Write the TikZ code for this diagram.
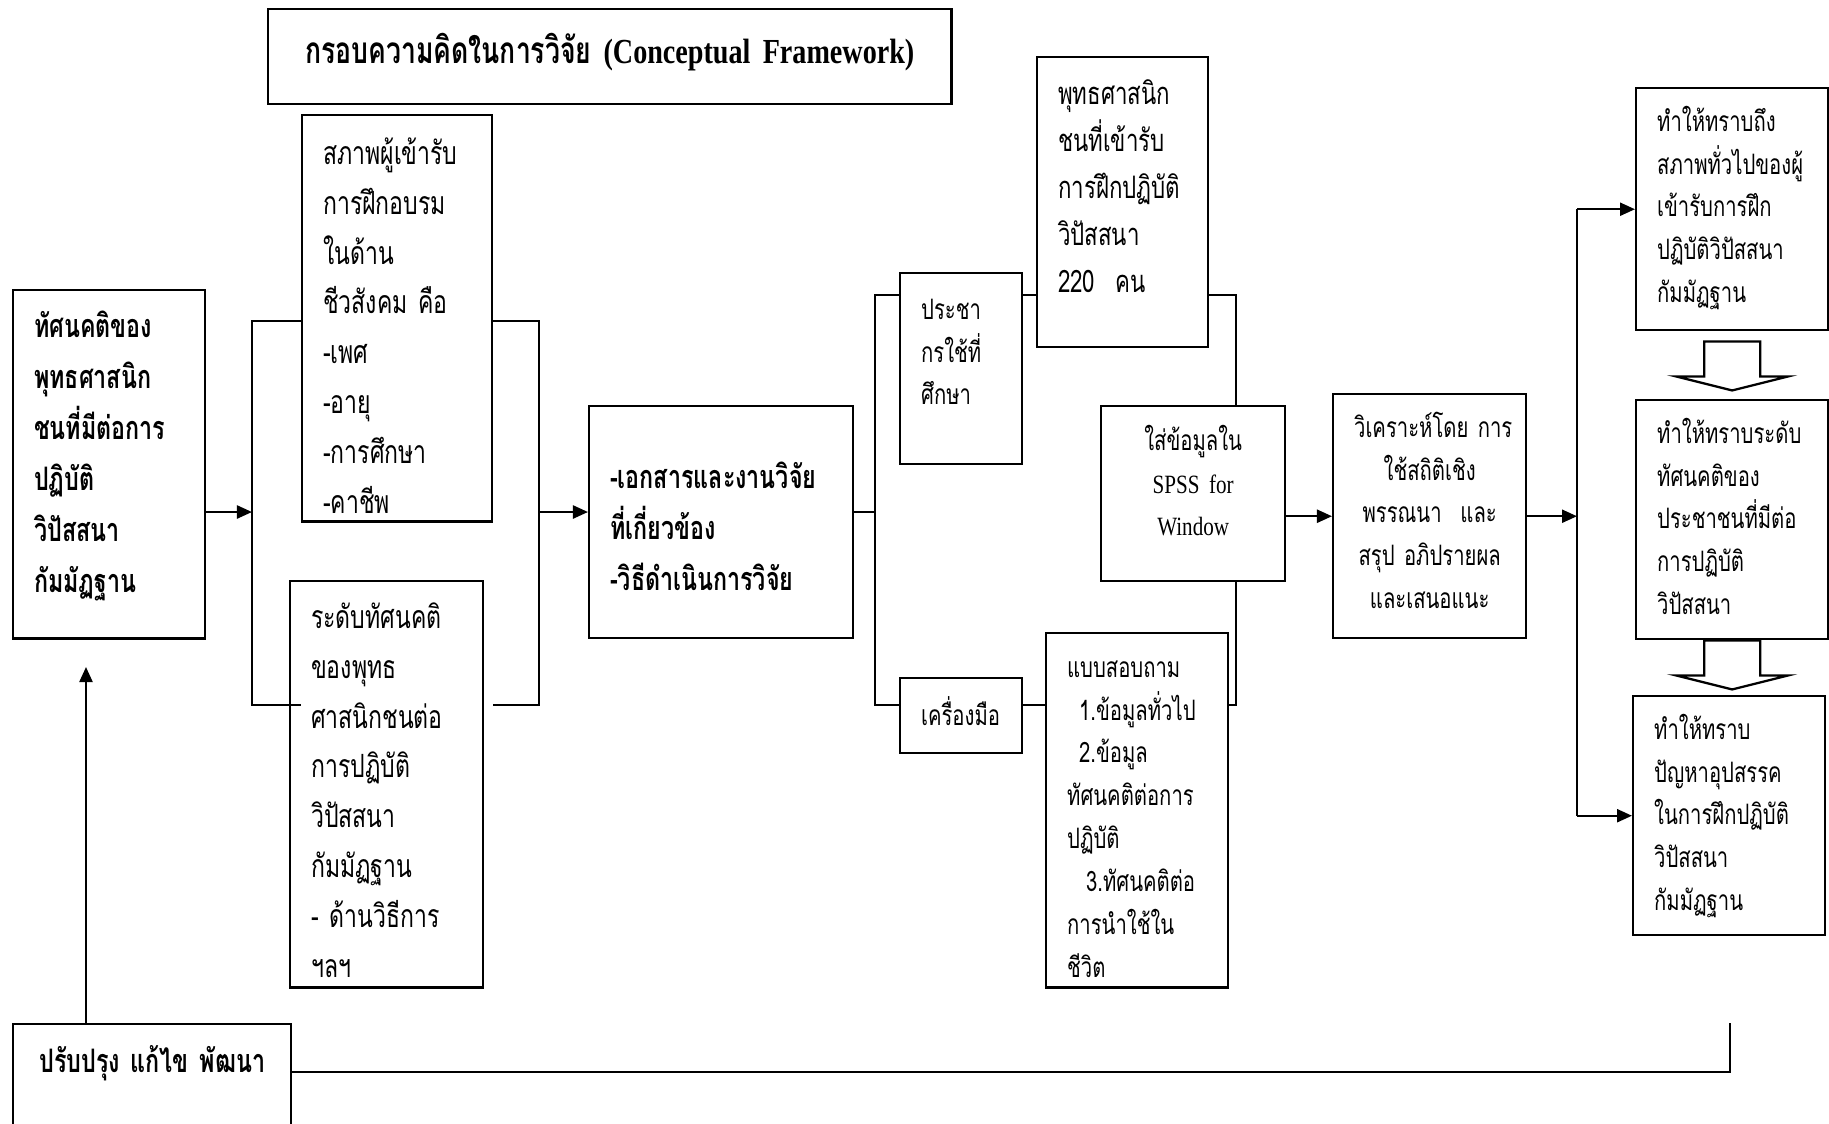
\documentclass[tikz,border=0pt]{standalone}
\usepackage{fontspec}
\setmainfont{Liberation Serif}[FakeStretch=0.8]
\newfontfamily\thai[Script=Thai,FakeStretch=0.72]{Loma}
\usetikzlibrary{arrows.meta,positioning}
\exhyphenpenalty=10000
\hyphenpenalty=10000

\begin{document}
\begin{tikzpicture}[x=0.01cm, y=-0.01cm, line width=0.65pt, >={Triangle[length=0.15cm,width=0.13cm]}]
	\tikzstyle{Box}		= [draw, anchor=north west, inner xsep=0.21cm, inner ysep=0pt, align=left, font=\thai\fontsize{9.1}{14.2}\selectfont]
	\tikzstyle{Small}	= [font=\thai\fontsize{8}{12.2}\selectfont]
	\tikzstyle{Mid}		= [font=\thai\fontsize{8.8}{13.4}\selectfont]
	\tikzstyle{Bold}	= [font=\thai\bfseries\fontsize{9.2}{14.5}\selectfont]
	\tikzstyle{Block}	= [line width=0.65pt, fill=white]

	\clip (0,0) rectangle (1829,1123);

	\node (title) at (267,8) [Box][align=center, font=\thai\bfseries\fontsize{10.5}{14}\selectfont, text width=6.41cm, text height=0.54cm, text depth=0.41cm]
		{กรอบความคิดในการวิจัย {\rmfamily\fontsize{10}{14}\selectfont(Conceptual~Framework)}};

	\node (A) at (12,289) [Box][Bold][text width=1.50cm, text height=0.47cm, text depth=3.01cm]
		{ทัศนคติของ\\พุทธศาสนิก\\ชนที่มีต่อการ\\ปฏิบัติ\\วิปัสสนา\\กัมมัฏฐาน};
	\node (B1) at (301,114) [Box][text width=1.48cm, text height=0.49cm, text depth=3.57cm]
		{สภาพผู้เข้ารับ\\การฝึกอบรม\\ในด้าน\\ชีวสังคม~คือ\\-เพศ\\-อายุ\\-การศึกษา\\-คาชีพ};
	\node (B2) at (289,580) [Box][text width=1.51cm, text height=0.47cm, text depth=3.59cm]
		{ระดับทัศนคติ\\ของพุทธ\\ศาสนิกชนต่อ\\การปฏิบัติ\\วิปัสสนา\\กัมมัฏฐาน\\-~ด้านวิธีการ\\ฯลฯ};
	\node (C) at (588,405) [Box][Bold][text width=2.22cm, text height=0.82cm, text depth=1.50cm]
		{-เอกสารและงานวิจัย\\ที่เกี่ยวข้อง\\-วิธีดำเนินการวิจัย};
	\node (D1) at (899,272) [Box][Small][text width=0.80cm, text height=0.46cm, text depth=1.45cm]
		{ประชา\\กรใช้ที่\\ศึกษา};
	\node (D2) at (899,677) [Box][Small][text width=0.80cm, text height=0.47cm, text depth=0.28cm]
		{เครื่องมือ};
	\node (E1) at (1036,56) [Box][Mid][text width=1.29cm, text height=0.47cm, text depth=2.43cm]
		{พุทธศาสนิก\\ชนที่เข้ารับ\\การฝึกปฏิบัติ\\วิปัสสนา\\220~~คน};
	\node (E2) at (1045,632) [Box][Small][text width=1.40cm, text height=0.44cm, text depth=3.10cm]
		{แบบสอบถาม\\\hspace*{0.12cm}1.ข้อมูลทั่วไป\\\hspace*{0.12cm}2.ข้อมูล\\ทัศนคติต่อการ\\ปฏิบัติ\\\hspace*{0.19cm}3.ทัศนคติต่อ\\การนำใช้ใน\\ชีวิต};
	\node (F) at (1100,405) [Box][Small][align=center, text width=1.42cm, text height=0.44cm, text depth=1.31cm]
		{ใส่ข้อมูลใน\\{\rmfamily\fontsize{7.5}{12.2}\selectfont SPSS~for}\\{\rmfamily\fontsize{7.5}{12.2}\selectfont Window}};
	\node (G) at (1332,393) [Box][Small][align=center, text width=1.51cm, text height=0.43cm, text depth=2.01cm]
		{วิเคราะห์โดย~การ\\ใช้สถิติเชิง\\พรรณนา~~และ\\สรุป~อภิปรายผล\\และเสนอแนะ};
	\node (H1) at (1635,87) [Box][Small][text width=1.50cm, text height=0.43cm, text depth=1.99cm]
		{ทำให้ทราบถึง\\สภาพทั่วไปของผู้\\เข้ารับการฝึก\\ปฏิบัติวิปัสสนา\\กัมมัฏฐาน};
	\node (H2) at (1635,399) [Box][Small][text width=1.50cm, text height=0.43cm, text depth=1.96cm]
		{ทำให้ทราบระดับ\\ทัศนคติของ\\ประชาชนที่มีต่อ\\การปฏิบัติ\\วิปัสสนา};
	\node (H3) at (1632,695) [Box][Small][text width=1.50cm, text height=0.43cm, text depth=1.96cm]
		{ทำให้ทราบ\\ปัญหาอุปสรรค\\ในการฝึกปฏิบัติ\\วิปัสสนา\\กัมมัฏฐาน};
	\node (I) at (12,1023) [Box][Bold][align=center, text width=2.36cm, text height=0.48cm, text depth=1.02cm]
		{ปรับปรุง~แก้ไข~พัฒนา};

	\coordinate (r0) at (0,295);
	\coordinate (r1) at (0,321);
	\coordinate (r2) at (0,705);
	\coordinate (jL) at (252,512);
	\coordinate (jR) at (539,512);
	\coordinate (sp) at (875,512);
	\coordinate (m) at (1236,295);
	\coordinate (v) at (1577,513);
	\coordinate (fb) at (1730,1023);
	\coordinate (fy) at (0,1072);
	\coordinate (up) at (86,667);

	% brackets round the two boxes of the first stage
	\draw (B1.west |- r1) -| (jL) |- (B1.west |- r2);
	\draw (B1.east |- r1) -| (jR) |- (B1.east |- r2);
	\draw [->] (A.east |- jL) -- (jL);
	\draw [->] (jR) -- (C.west |- jR);

	\draw (C.east |- sp) -- (sp);
	\draw (D1.west |- r0) -| (sp) |- (D2.west |- r2);
	\draw (D1.east |- r0) -- (E1.west |- r0);
	\draw (D2.east |- r2) -- (E2.west |- r2);
	\draw (E1.east |- r0) -| (F.north -| m);
	\draw (F.south -| m) |- (E2.east |- r2);
	\draw [->] (F.east |- G.west) -- (G.west);

	\draw [->] (G.east) -- (v |- G.east);
	\draw (v |- H1.west) -- (v |- H3.west);
	\foreach \n in {H1, H3}
		\draw [->] (v |- \n.west) -- (\n.west);
	\foreach \n/\g in {H1/10, H2/0}
		\draw [Block] (\n.south) ++(-28,\g) -- ++(0,35) -- ++(-28,0) -- ++(56,14) -- ++(56,-14) -- ++(-28,0) -- ++(0,-35) -- cycle;

	% feedback
	\draw (fb) |- (I.east |- fy);
	\draw [->] (I.north -| up) -- (up);
\end{tikzpicture}
\end{document}
